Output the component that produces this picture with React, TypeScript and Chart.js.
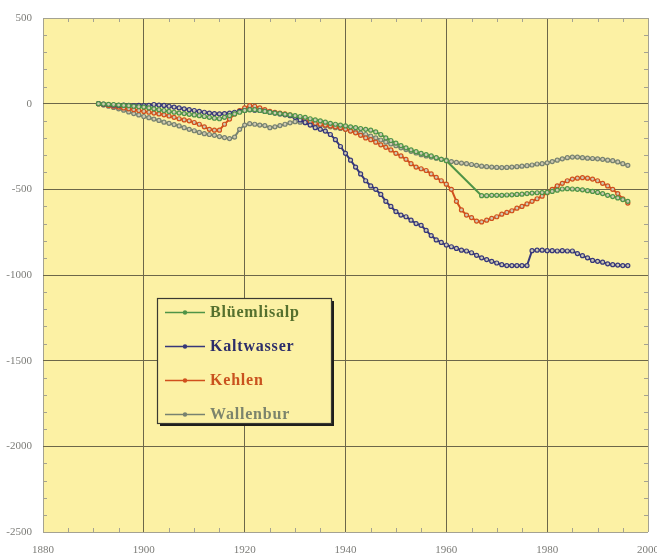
import React, { useEffect, useRef } from "react";
import { Chart, registerables } from "chart.js";

Chart.register(...registerables);

// Glacier length change (m) relative to the first survey, one value per year
const FIRST_YEAR = 1891;

const BLUEEMLISALP: (number | null)[] = [
  0, -2, -4, -5, -8, -10, -12, -15, -18, -20, // 1891-1900
  -25, -30, -35, -40, -45, -50, -55, -58, -62, -66, // 1901-1910
  -70, -75, -80, -85, -88, -80, -70, -60, -50, -40, // 1911-1920
  -35, -35, -40, -45, -50, -55, -58, -62, -66, -70, // 1921-1930
  -75, -80, -88, -95, -100, -108, -115, -120, -125, -130, // 1931-1940
  -135, -140, -145, -150, -155, -165, -180, -200, -215, -230, // 1941-1950
  -245, -258, -270, -280, -290, -298, -305, -315, -325, -333, // 1951-1960
  null, null, null, null, null, null, -537, -537, -535, -535, // 1961-1970
  -535, -533, -532, -530, -528, -525, -522, -520, -519, -518, // 1971-1980
  -512, -505, -498, -496, -498, -500, -503, -508, -512, -518, // 1981-1990
  -525, -535, -542, -550, -560, -570, // 1991-1996
];

const KALTWASSER: (number | null)[] = [
  0, -3, -5, -8, -10, -8, -10, -12, -10, -12, // 1891-1900
  -10, -5, -8, -10, -15, -20, -25, -30, -35, -40, // 1901-1910
  -45, -50, -55, -58, -60, -58, -55, -50, -45, -40, // 1911-1920
  -35, -38, -40, -45, -50, -55, -60, -65, -70, -80, // 1921-1930
  -95, -110, -125, -140, -150, -160, -180, -210, -250, -290, // 1931-1940
  -330, -370, -410, -450, -480, -500, -530, -570, -600, -630, // 1941-1950
  -650, -660, -680, -700, -710, -740, -770, -795, -810, -825, // 1951-1960
  -835, -845, -855, -860, -870, -885, -900, -910, -920, -930, // 1961-1970
  -940, -945, -945, -945, -945, -945, -858, -855, -855, -858, // 1971-1980
  -858, -860, -858, -860, -860, -875, -887, -900, -915, -920, // 1981-1990
  -925, -935, -940, -942, -945, -945, // 1991-1996
];

const KEHLEN: (number | null)[] = [
  0, -5, -10, -15, -20, -25, -30, -35, -40, -45, // 1891-1900
  -50, -55, -60, -65, -72, -80, -88, -95, -100, -110, // 1901-1910
  -120, -135, -150, -155, -155, -120, -90, -60, -40, -25, // 1911-1920
  -12, -15, -25, -35, -45, -50, -55, -60, -65, -75, // 1921-1930
  -85, -95, -105, -115, -120, -125, -130, -135, -140, -150, // 1931-1940
  -160, -170, -185, -200, -210, -225, -240, -255, -270, -290, // 1941-1950
  -305, -325, -350, -370, -380, -390, -410, -430, -450, -470, // 1951-1960
  -500, -570, -620, -650, -665, -685, -690, -680, -670, -660, // 1961-1970
  -645, -635, -625, -610, -600, -585, -570, -555, -540, -520, // 1971-1980
  -500, -480, -465, -450, -440, -435, -432, -435, -440, -450, // 1981-1990
  -465, -480, -500, -525, -555, -580, // 1991-1996
];

const WALLENBUR: (number | null)[] = [
  0, -8, -15, -22, -30, -38, -48, -58, -66, -75, // 1891-1900
  -82, -90, -98, -108, -115, -122, -130, -140, -150, -158, // 1901-1910
  -168, -175, -180, -185, -192, -198, -204, -195, -150, -125, // 1911-1920
  -117, -120, -125, -128, -140, -135, -128, -120, -112, -105, // 1921-1930
  -108, -112, -116, -120, -125, -130, -135, -140, -145, -150, // 1931-1940
  -158, -165, -172, -180, -190, -200, -212, -225, -235, -245, // 1941-1950
  -258, -268, -278, -288, -298, -305, -312, -318, -325, -330, // 1951-1960
  -338, -343, -347, -350, -355, -360, -365, -368, -370, -372, // 1961-1970
  -373, -372, -370, -368, -365, -362, -358, -352, -350, -345, // 1971-1980
  -338, -330, -322, -315, -312, -312, -315, -318, -320, -322, // 1981-1990
  -325, -330, -333, -340, -350, -360, // 1991-1996
];

const SERIES_NAMES = ["Blüemlisalp", "Kaltwasser", "Kehlen", "Wallenbur"];
const SERIES_VALUES = [BLUEEMLISALP, KALTWASSER, KEHLEN, WALLENBUR];
const LINE_COLORS = ["#4f9447", "#37387a", "#d0501c", "#778270"];
const TEXT_COLORS = ["#55702e", "#2c2d6a", "#c9521e", "#7c846c"];

const X_TICKS = [1880, 1900, 1920, 1940, 1960, 1980, 2000];
const X_LABELS = ["1880", "1900", "1920", "1940", "1960", "1980", "2000"];
const Y_TICKS = [500, 0, -500, -1000, -1500, -2000, -2500];
const Y_LABELS = ["500", "0", "-500", "-1000", "-1500", "-2000", "-2500"];

const PLOT_BG = "#fcf1a4";
const GRID_DARK = "#6c6749";
const GRID_EDGE = "#a4a292";
const TICK_TEXT = "#7c7c78";

const toPoints = (vals: (number | null)[]) =>
  vals.map((v, i) => ({ x: FIRST_YEAR + i, y: v }));

const plotBackground = {
  id: "plotBackground",
  beforeDraw(chart: any) {
    const { ctx, chartArea: a } = chart;
    ctx.save();
    ctx.fillStyle = PLOT_BG;
    ctx.fillRect(a.left, a.top, a.right - a.left, a.bottom - a.top);
    ctx.restore();
  },
};

// axis labels and short inward minor ticks
const axisDecor = {
  id: "axisDecor",
  afterDraw(chart: any) {
    const { ctx, chartArea: a, scales } = chart;
    const xs = scales.x;
    const ys = scales.y;
    ctx.save();
    ctx.strokeStyle = GRID_EDGE;
    ctx.lineWidth = 1;
    ctx.beginPath();
    for (let yr = 1885; yr < 2000; yr += 5) {
      if (yr % 20 === 0) continue;
      const px = Math.round(xs.getPixelForValue(yr)) + 0.5;
      ctx.moveTo(px, a.top);
      ctx.lineTo(px, a.top + 4);
      ctx.moveTo(px, a.bottom);
      ctx.lineTo(px, a.bottom - 4);
    }
    for (let v = 400; v > -2500; v -= 100) {
      if (v % 500 === 0) continue;
      const py = Math.round(ys.getPixelForValue(v)) + 0.5;
      ctx.moveTo(a.left, py);
      ctx.lineTo(a.left + 4, py);
      ctx.moveTo(a.right, py);
      ctx.lineTo(a.right - 4, py);
    }
    ctx.stroke();

    ctx.fillStyle = TICK_TEXT;
    ctx.font = "11px 'Liberation Serif', 'DejaVu Serif', serif";
    ctx.textAlign = "right";
    ctx.textBaseline = "middle";
    Y_TICKS.forEach((v, i) => {
      ctx.fillText(Y_LABELS[i], a.left - 11, ys.getPixelForValue(v));
    });
    ctx.textAlign = "center";
    X_TICKS.forEach((v, i) => {
      ctx.fillText(X_LABELS[i], xs.getPixelForValue(v), a.bottom + 18);
    });
    ctx.restore();
  },
};

// boxed legend with drop shadow inside the plot
const boxLegend = {
  id: "boxLegend",
  afterDraw(chart: any) {
    const { ctx } = chart;
    const left = 157;
    const top = 298;
    const w = 174;
    const h = 125;
    ctx.save();
    ctx.fillStyle = "#1e1e1a";
    ctx.fillRect(left + 3, top + 3, w, h);
    ctx.fillStyle = PLOT_BG;
    ctx.fillRect(left, top, w, h);
    ctx.strokeStyle = "#3a3a32";
    ctx.lineWidth = 1.2;
    ctx.strokeRect(left + 0.5, top + 0.5, w, h);
    ctx.font = "bold 16px 'Liberation Serif', 'DejaVu Serif', serif";
    (ctx as any).letterSpacing = "0.8px";
    ctx.textBaseline = "middle";
    ctx.textAlign = "left";
    chart.data.datasets.forEach((ds: any, i: number) => {
      const y = top + 14 + i * 34;
      ctx.strokeStyle = ds.borderColor;
      ctx.lineWidth = 1.5;
      ctx.beginPath();
      ctx.moveTo(left + 8, y + 0.5);
      ctx.lineTo(left + 48, y + 0.5);
      ctx.stroke();
      ctx.fillStyle = ds.borderColor;
      ctx.beginPath();
      ctx.arc(left + 28, y + 0.5, 2.2, 0, Math.PI * 2);
      ctx.fill();
      ctx.fillStyle = TEXT_COLORS[i];
      ctx.fillText(ds.label, left + 53, y + 1);
    });
    ctx.restore();
  },
};

export default function App() {
  const canvasRef = useRef<HTMLCanvasElement | null>(null);

  useEffect(() => {
    if (!canvasRef.current) return;
    const chart = new Chart(canvasRef.current, {
      type: "line",
      data: {
        datasets: SERIES_NAMES.map((name, i) => ({
          label: name,
          data: toPoints(SERIES_VALUES[i]),
          borderColor: LINE_COLORS[i],
          backgroundColor: LINE_COLORS[i],
          pointBackgroundColor: "#cfcab0",
          pointBorderColor: LINE_COLORS[i],
          pointBorderWidth: 1.2,
          pointRadius: 2,
          borderWidth: 2,
          spanGaps: true,
          tension: 0,
        })),
      },
      options: {
        responsive: false,
        animation: false,
        layout: { padding: { left: 43, top: 18, right: 9, bottom: 27 } },
        plugins: { legend: { display: false }, tooltip: { enabled: false } },
        scales: {
          x: {
            type: "linear",
            min: 1880,
            max: 2000,
            afterBuildTicks: (s: any) => {
              s.ticks = X_TICKS.map((v) => ({ value: v }));
            },
            ticks: { display: false },
            border: { display: false },
            grid: {
              drawTicks: false,
              lineWidth: 1,
              color: (c: any) =>
                c.tick && (c.tick.value === 1880 || c.tick.value === 2000) ? GRID_EDGE : GRID_DARK,
            },
          },
          y: {
            type: "linear",
            min: -2500,
            max: 500,
            afterBuildTicks: (s: any) => {
              s.ticks = Y_TICKS.map((v) => ({ value: v }));
            },
            ticks: { display: false },
            border: { display: false },
            grid: {
              drawTicks: false,
              lineWidth: 1,
              color: (c: any) =>
                c.tick && (c.tick.value === 500 || c.tick.value === -2500) ? GRID_EDGE : GRID_DARK,
            },
          },
        },
      },
      plugins: [plotBackground, axisDecor, boxLegend],
    });
    return () => chart.destroy();
  }, []);

  return (
    <div style={{ position: "absolute", left: 0, top: 0, width: 657, height: 559, background: "#ffffff" }}>
      <canvas ref={canvasRef} width={657} height={559} style={{ width: 657, height: 559, display: "block" }} />
    </div>
  );
}
